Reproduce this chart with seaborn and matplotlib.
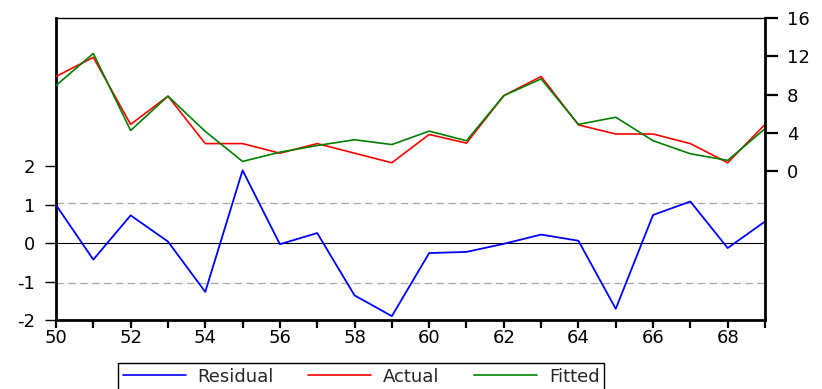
import matplotlib
matplotlib.use("Agg")
import matplotlib.pyplot as plt
from matplotlib.lines import Line2D
import pandas as pd
import seaborn as sns

# Observation labels (two-digit years)
years = [50, 51, 52, 53, 54, 55, 56, 57, 58, 59,
         60, 61, 62, 63, 64, 65, 66, 67, 68, 69]

# Regression residuals (left scale)
residual = [0.99, -0.43, 0.72, 0.04, -1.27, 1.89, -0.03, 0.26, -1.36, -1.90,
            -0.26, -0.23, -0.02, 0.22, 0.06, -1.71, 0.73, 1.08, -0.13, 0.56]

# Actual and fitted values of the dependent variable (right scale)
actual = [9.9, 11.9, 4.9, 7.85, 2.9, 2.9, 1.9, 2.9, 1.9, 0.9,
          3.85, 2.95, 7.9, 9.9, 4.85, 3.9, 3.9, 2.9, 0.9, 4.9]
fitted = [8.96, 12.3, 4.27, 7.85, 4.17, 1.04, 2.0, 2.7, 3.3, 2.8,
          4.2, 3.2, 7.9, 9.65, 4.9, 5.65, 3.2, 1.84, 1.15, 4.45]

# Standard error of the regression (dashed band)
se_band = 1.05

left_ticks = [-2, -1, 0, 1, 2]
right_ticks = [0, 4, 8, 12, 16]

sns.set_style("white")
plt.rcParams["font.family"] = ["DejaVu Sans"]
plt.rcParams["axes.unicode_minus"] = False

W, H = 822, 389
fig = plt.figure(figsize=(W / 100, H / 100), dpi=100)
ax = fig.add_axes([56 / W, 1 - 320 / H, (765 - 56) / W, (320 - 18) / H])
ax2 = ax.twinx()

# Residual panel
ax.axhline(0, color="black", lw=0.8, zorder=1)
for lvl in (se_band, -se_band):
    ax.axhline(lvl, color="#a8a8a8", lw=0.9, ls=(0, (6, 3.5)), zorder=1)
sns.lineplot(x=years, y=residual, ax=ax, color="#0000ff", lw=1.3, zorder=3)

# Actual / fitted on the right-hand scale
df = pd.DataFrame({
    "year": years * 2,
    "value": actual + fitted,
    "series": ["Actual"] * len(years) + ["Fitted"] * len(years),
})
sns.lineplot(data=df, x="year", y="value", hue="series",
             hue_order=["Actual", "Fitted"],
             palette={"Actual": "#ff0000", "Fitted": "#008000"},
             ax=ax2, lw=1.2, legend=False)

# Axes limits and ticks
ax.set_xlim(years[0], years[-1])
ax.set_ylim(-2, 5.85)
ax2.set_ylim(-15.5, 16)
ax.set_yticks(left_ticks)
ax.set_yticklabels([str(t) for t in left_ticks])
ax2.set_yticks(right_ticks)
ax2.set_yticklabels([str(t) for t in right_ticks])
ax.set_xticks(years)
ax.set_xticklabels([str(y) if y % 2 == 0 else "" for y in years])

ax.set_xlabel("")
ax.set_ylabel("")
ax2.set_xlabel("")
ax2.set_ylabel("")

ax.tick_params(axis="y", direction="out", length=8, width=1.0, pad=7,
               labelsize=13, left=True, colors="black")
ax.tick_params(axis="x", direction="out", length=5.8, width=1.6, pad=0.5,
               labelsize=13, bottom=True, colors="black")
ax2.tick_params(axis="y", direction="out", length=9.4, width=1.6, pad=6.5,
                labelsize=13, right=True, colors="black")

# Frame
for name, sp in ax.spines.items():
    sp.set_color("black")
ax.spines["top"].set_linewidth(1.0)
ax.spines["left"].set_linewidth(2.0)
ax.spines["bottom"].set_linewidth(2.0)
ax.spines["right"].set_visible(False)
for name in ("left", "top", "bottom"):
    ax2.spines[name].set_visible(False)
ax2.spines["right"].set_color("black")
ax2.spines["right"].set_linewidth(2.0)
ax.grid(False)
ax2.grid(False)

# Legend below the plot
handles = [
    Line2D([], [], color="#0000ff", lw=1.2),
    Line2D([], [], color="#ff0000", lw=1.2),
    Line2D([], [], color="#008000", lw=1.2),
]
leg = fig.legend(handles, ["Residual", "Actual", "Fitted"],
                 loc="upper center", bbox_to_anchor=(361 / W, 1 - 363 / H),
                 borderaxespad=0,
                 ncol=3, frameon=True, fancybox=False, edgecolor="black",
                 framealpha=1, fontsize=13, handlelength=3.5,
                 handletextpad=0.65, columnspacing=1.9, borderpad=0.25)
leg.get_frame().set_linewidth(1.0)

fig.savefig("out.png", dpi=100, facecolor="white")
